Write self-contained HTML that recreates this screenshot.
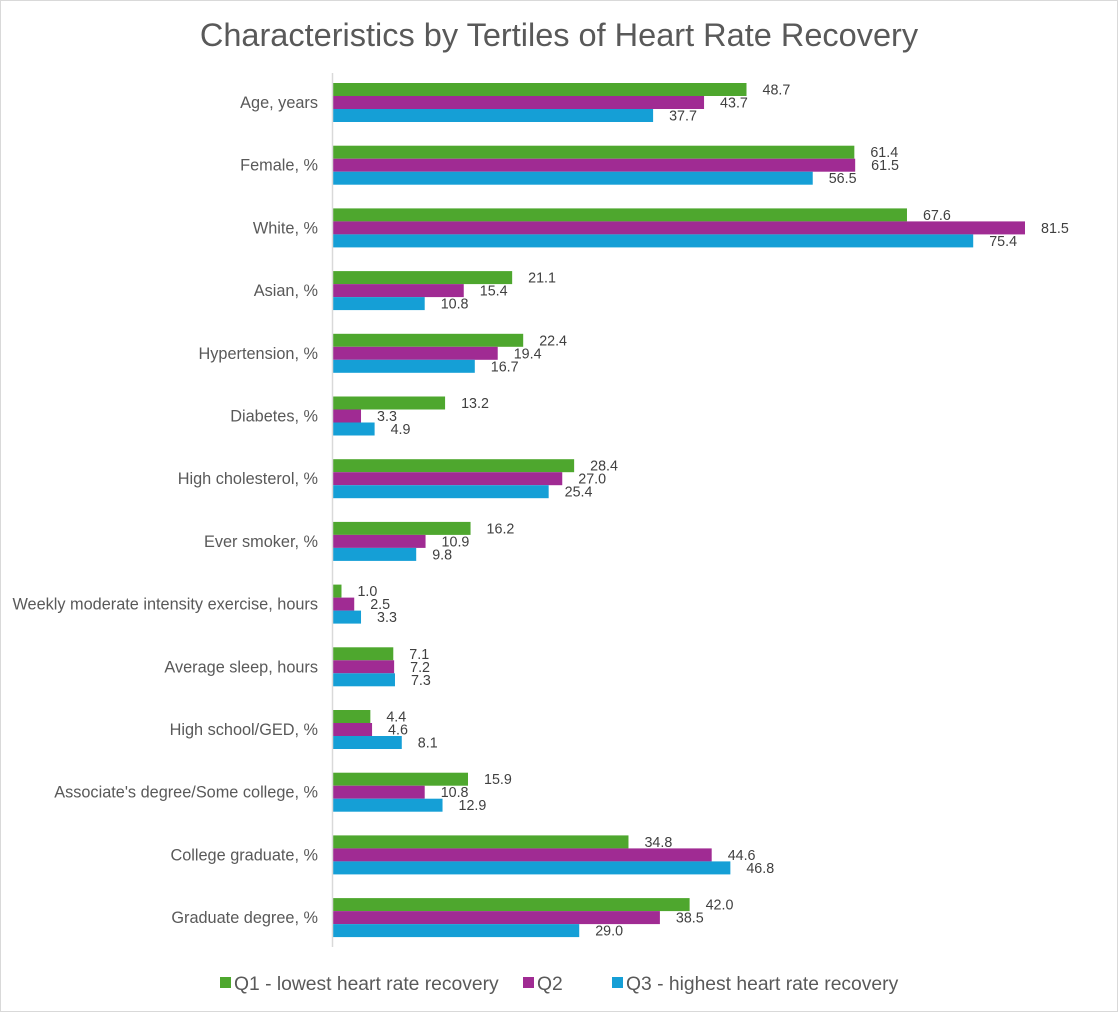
<!DOCTYPE html>
<html><head><meta charset="utf-8"><style>
html,body{margin:0;padding:0;background:#fff;}
#wrap{position:relative;width:1118px;height:1012px;box-sizing:border-box;border:1px solid #d9d9d9;background:#fff;}
svg{position:absolute;left:0;top:0;font-family:"Liberation Sans",Arial,sans-serif;}
</style></head><body>
<div id="wrap">
<svg id="chart" width="1118" height="1012"></svg>
</div>
<script>
const categories=["Age, years","Female, %","White, %","Asian, %","Hypertension, %","Diabetes, %","High cholesterol, %","Ever smoker, %","Weekly moderate intensity exercise, hours","Average sleep, hours","High school/GED, %","Associate's degree/Some college, %","College graduate, %","Graduate degree, %"];
const q1Values=[48.7,61.4,67.6,21.1,22.4,13.2,28.4,16.2,1.0,7.1,4.4,15.9,34.8,42.0];
const q2Values=[43.7,61.5,81.5,15.4,19.4,3.3,27.0,10.9,2.5,7.2,4.6,10.8,44.6,38.5];
const q3Values=[37.7,56.5,75.4,10.8,16.7,4.9,25.4,9.8,3.3,7.3,8.1,12.9,46.8,29.0];
const seriesNames=["Q1 - lowest heart rate recovery","Q2","Q3 - highest heart rate recovery"];

const NS="http://www.w3.org/2000/svg";
const svg=document.getElementById('chart');
const colors=["#4ea72e","#a02b93","#159fd6"];
const x0=332, pxPerUnit=(1024-332)/81.5;
const xScale=v=>x0+v*pxPerUnit;
const groupTop=i=>82+i*62.7;
const barH=13;
function mk(tag,attrs){const e=document.createElementNS(NS,tag);for(const k in attrs)e.setAttribute(k,attrs[k]);svg.appendChild(e);return e;}

const title=mk('text',{x:558,y:45,'text-anchor':'middle','font-size':32.5,fill:'#595959'});
title.textContent="Characteristics by Tertiles of Heart Rate Recovery";



const series=[q1Values,q2Values,q3Values];
categories.forEach((c,i)=>{
  const top=groupTop(i);
  const lab=mk('text',{x:317,y:top+barH*1.5+5.5,'text-anchor':'end','font-size':16.3,fill:'#595959'});
  lab.textContent=c;
  
  
  series.forEach((vals,s)=>{
    const y=top+s*barH;
    const r=mk('rect',{x:x0,y:y,width:xScale(vals[i])-x0,height:barH,fill:colors[s]});
    
    
    const t=mk('text',{x:xScale(vals[i])+16,y:y+barH/2+5,'font-size':14.3,fill:'#404040'});
    t.textContent=vals[i].toFixed(1);
    
    
  });
});
const ax=mk('line',{x1:331.5,y1:72,x2:331.5,y2:946,stroke:'#d9d9d9','stroke-width':1.5});



const legendX=[219,522,611];
seriesNames.forEach((n,s)=>{
  const r=mk('rect',{x:legendX[s],y:976,width:11,height:11,fill:colors[s]});
  
  
  const t=mk('text',{x:legendX[s]+14,y:989,'font-size':19.3,fill:'#595959'});
  t.textContent=n;
  
  
});
</script>
</body></html>
